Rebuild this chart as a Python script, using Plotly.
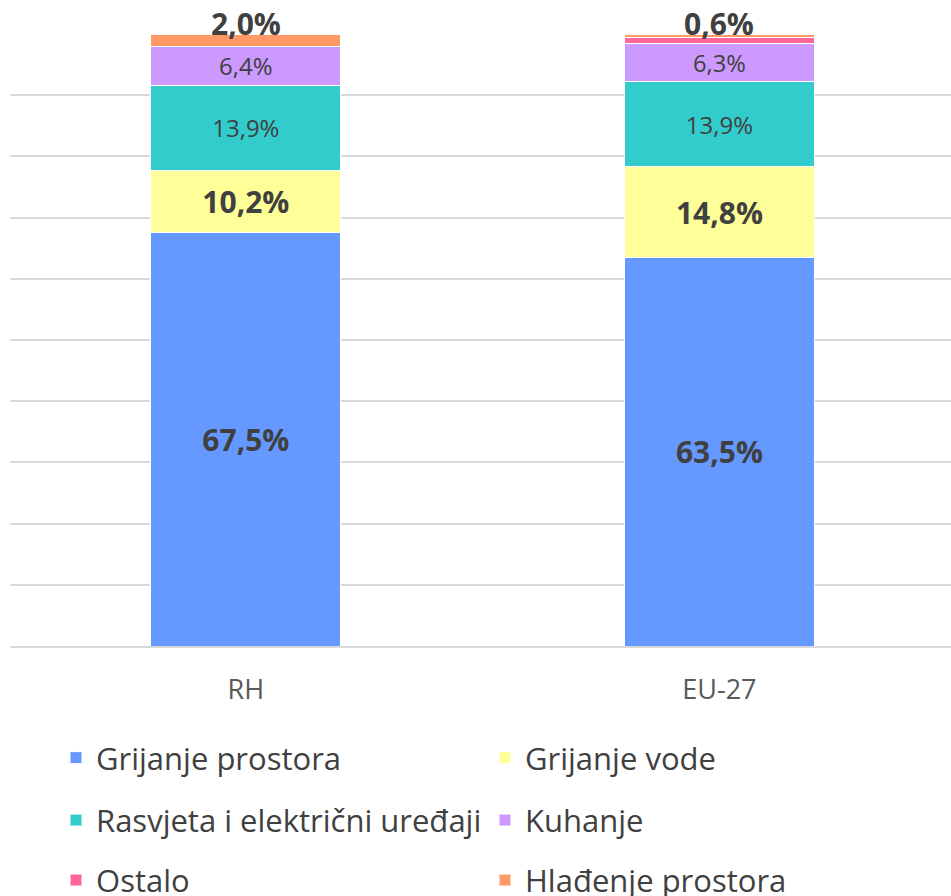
import plotly.graph_objects as go

categories = ["RH", "EU-27"]
series_names = ["Grijanje prostora", "Grijanje vode", "Rasvjeta i električni uređaji",
                "Kuhanje", "Ostalo", "Hlađenje prostora"]
grijanje_prostora = [67.5, 63.5]
grijanje_vode = [10.2, 14.8]
rasvjeta = [13.9, 13.9]
kuhanje = [6.4, 6.3]
ostalo = [0.0, 0.9]
hladenje = [2.0, 0.6]
y_ticks = list(range(0, 101, 10))

values = [grijanje_prostora, grijanje_vode, rasvjeta, kuhanje, ostalo, hladenje]
colors = ["#6699FF", "#FFFF99", "#33CCCC", "#CC99FF", "#FF6699", "#FF9966"]
bold = [True, True, False, False, False, True]
legend_ids = ["legend", "legend", "legend2", "legend2", "legend3", "legend3"]
inside_text = [True, True, True, True, False, False]

FONT = "Open Sans"


def fmt(v, b):
    s = f"{v:.1f}%".replace(".", ",")
    return f"<b>{s}</b>" if b else s


fig = go.Figure()
for name, vals, col, b, lg, it in zip(series_names, values, colors, bold, legend_ids, inside_text):
    txt = [fmt(v, b) for v in vals] if it else None
    fig.add_trace(go.Bar(
        x=categories, y=vals, name=name, legend=lg,
        marker=dict(color=col, line=dict(color="white", width=1)),
        width=0.401,
        text=txt,
        textposition="inside" if it else "none",
        insidetextanchor="middle",
        textangle=0,
        textfont=dict(size=30 if b else 24, color="#404040", family=FONT),
        hoverinfo="skip",
    ))

# labels for the top segment (Hlađenje prostora), placed at the stack totals
totals = [sum(v[i] for v in values) for i in range(len(categories))]
for cat, tot, v in zip(categories, totals, hladenje):
    fig.add_annotation(x=cat, y=tot, xref="x", yref="y", text=fmt(v, True),
                       showarrow=False, yanchor="bottom", yshift=-12,
                       font=dict(size=30, color="#404040", family=FONT))

leg_common = dict(orientation="h", xanchor="left", yanchor="middle",
                  font=dict(size=31, color="#404040", family=FONT),
                  entrywidth=384, entrywidthmode="pixels", bgcolor="rgba(0,0,0,0)",
                  itemwidth=30, traceorder="normal")

fig.update_layout(
    width=951, height=896,
    margin=dict(l=10, r=0, t=34, b=250, autoexpand=False),
    barmode="stack",
    plot_bgcolor="white", paper_bgcolor="white",
    showlegend=True,
    xaxis=dict(range=[-0.498, 1.489], showgrid=False, showline=True,
               linecolor="#D9D9D9", linewidth=2, ticks="", automargin=False,
               tickfont=dict(size=27, color="#595959", family=FONT),
               ticklabelstandoff=19),
    yaxis=dict(range=[0, 100], tickvals=y_ticks, showticklabels=False,
               showgrid=True, gridcolor="#D9D9D9", gridwidth=2, zeroline=False,
               showline=False, fixedrange=True, automargin=False),
    legend=dict(x=0.0489, y=-0.183, **leg_common),
    legend2=dict(x=0.0489, y=-0.285, **leg_common),
    legend3=dict(x=0.0489, y=-0.383, **leg_common),
)

fig.write_html("out.html", config={"displayModeBar": False},
               post_script="document.body.style.margin='0px';")
